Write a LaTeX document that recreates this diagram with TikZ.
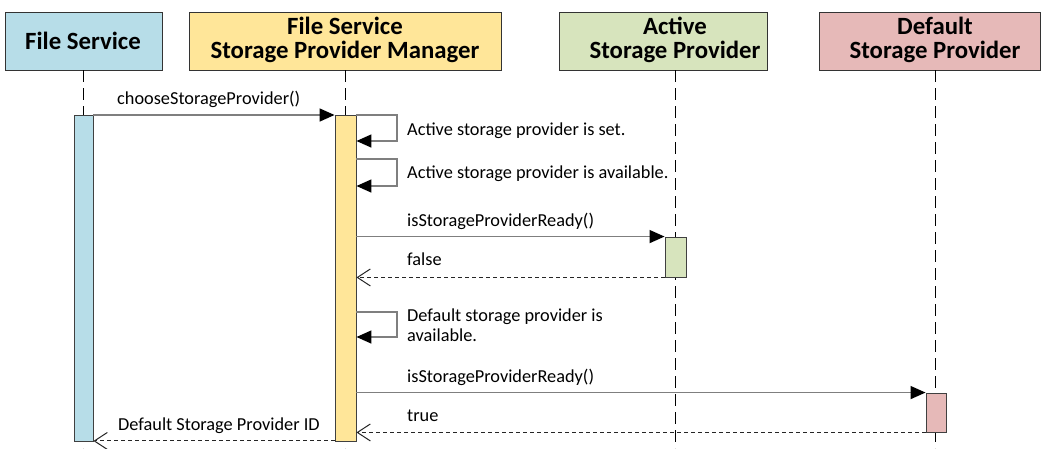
\documentclass[tikz,border=0pt]{standalone}
\usepackage{fontspec}
\setmainfont{Carlito}
\usetikzlibrary{arrows.meta}
\definecolor{fsblue}{HTML}{B7DDE8}
\definecolor{mgryellow}{HTML}{FFE699}
\definecolor{actgreen}{HTML}{D7E4BD}
\definecolor{defpink}{HTML}{E6B9B8}
\definecolor{msggray}{HTML}{7F7F7F}
\begin{document}
\begin{tikzpicture}[x=1pt,y=-1pt,
  headbox/.style={draw=black!80,line width=0.9pt,inner sep=0pt,minimum height=58pt},
  headtext/.style={font=\bfseries\fontsize{24.8}{24.5}\selectfont,align=center,inner sep=0pt},
  lifeline/.style={draw=black,line width=1pt,dash pattern=on 12pt off 6pt},
  actbar/.style={draw=black!75,line width=0.9pt,inner sep=0pt},
  call/.style={draw=msggray,line width=1.5pt,-{Triangle[length=15pt,width=13pt,fill=black,color=black]}},
  reply/.style={draw=black!85,line width=1pt,dash pattern=on 4pt off 3pt,
    -{Straight Barb[length=13pt,width=17pt,line width=1pt,color=black!85]}},
  lbl/.style={font=\fontsize{18.3}{20.5}\selectfont,inner sep=0pt,anchor=base west,align=left},
]
\useasboundingbox (0,0) rectangle (1041,448);

% ---------- lifeline heads ----------
\node[headbox,fill=fsblue,minimum width=157pt]    (hFS)  at (83.5,41) {};
\node[headbox,fill=mgryellow,minimum width=312pt] (hMgr) at (345,41)  {};
\node[headbox,fill=actgreen,minimum width=208pt]  (hAct) at (663,41)  {};
\node[headbox,fill=defpink,minimum width=221pt]   (hDef) at (929.5,41) {};

\node[headtext] (tFS)  at (83,41)  {File Service};
\node[headtext] (tMgr) at (345,40) {File Service\\Storage Provider Manager};
\node[headtext] (tAct) at (675,40) {Active\\Storage Provider};
\node[headtext] (tDef) at (935,40) {Default\\Storage Provider};

% ---------- lifelines ----------
\coordinate (sFS)  at (83,70);   \coordinate (eFS)  at (83,448);
\coordinate (sMgr) at (345,70);  \coordinate (eMgr) at (345,448);
\coordinate (sAct) at (675,70);  \coordinate (eAct) at (675,448);
\coordinate (sDef) at (935,70);  \coordinate (eDef) at (935,448);
\draw[lifeline] (sFS)  -- (eFS);
\draw[lifeline] (sMgr) -- (eMgr);
\draw[lifeline] (sAct) -- (eAct);
\draw[lifeline] (sDef) -- (eDef);

% ---------- activation bars ----------
\node[actbar,fill=fsblue,minimum width=19pt,minimum height=326pt]    (bFS)  at (83.5,278) {};
\node[actbar,fill=mgryellow,minimum width=21pt,minimum height=326pt] (bMgr) at (345.5,278) {};
\node[actbar,fill=actgreen,minimum width=21pt,minimum height=40pt]   (bAct) at (675.5,257) {};
\node[actbar,fill=defpink,minimum width=20pt,minimum height=39pt]    (bDef) at (936,412.5) {};

% ---------- messages ----------
% chooseStorageProvider()
\draw[call] (bFS.east |- 0,115) -- (bMgr.west |- 0,115);
\node[lbl] (m1) at (117,104) {chooseStorageProvider()};

% self call: active provider set
\coordinate (k1a) at (397,115); \coordinate (k1b) at (397,141);
\draw[call] (bMgr.east |- k1a) -- (k1a) -- (k1b) -- (bMgr.east |- k1b);
\node[lbl] (m2) at (407,135) {Active storage provider is set.};

% self call: active provider available
\coordinate (k2a) at (397,159); \coordinate (k2b) at (397,186);
\draw[call] (bMgr.east |- k2a) -- (k2a) -- (k2b) -- (bMgr.east |- k2b);
\node[lbl] (m3) at (407,178) {Active storage provider is available.};

% isStorageProviderReady() -> active
\draw[call] (bMgr.east |- bAct.north) -- (bAct.north west);
\node[lbl] (m4) at (407,226.5) {isStorageProviderReady()};

% false
\draw[reply] (bAct.south west) -- (bMgr.east |- bAct.south);
\node[lbl] (m5) at (407,265.7) {false};

% self call: default provider available (two-line label, base = last line)
\coordinate (k3a) at (397,312); \coordinate (k3b) at (397,337);
\draw[call] (bMgr.east |- k3a) -- (k3a) -- (k3b) -- (bMgr.east |- k3b);
\node[lbl] (m6) at (407,341.5) {Default storage provider is\\available.};

% isStorageProviderReady() -> default
\draw[call] (bMgr.east |- bDef.north) -- (bDef.north west);
\node[lbl] (m7) at (407,382) {isStorageProviderReady()};

% true
\draw[reply] (bDef.south west) -- (bMgr.east |- bDef.south);
\node[lbl] (m8) at (407,421.5) {true};

% Default Storage Provider ID
\draw[reply] (bMgr.south west) ++(0,-0.5) coordinate (r9) (r9) -- (bFS.east |- r9);
\node[lbl] (m9) at (118,430) {Default Storage Provider ID};
\end{tikzpicture}
\end{document}
